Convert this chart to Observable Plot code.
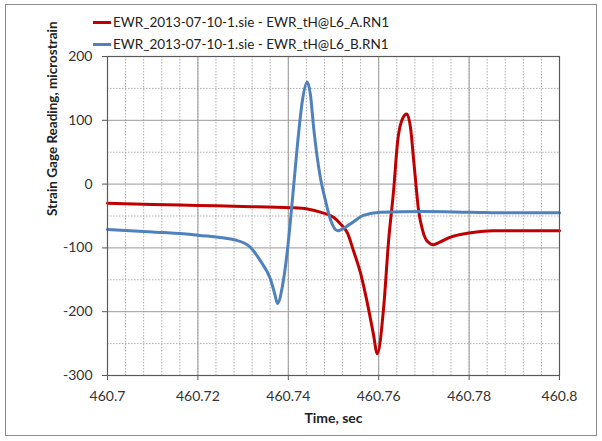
<!DOCTYPE html>
<html>
<head>
<meta charset="utf-8">
<script src="https://cdn.jsdelivr.net/npm/d3@7"></script>
<script src="https://cdn.jsdelivr.net/npm/@observablehq/plot@0.6"></script>
<style>
  html, body { margin: 0; padding: 0; background: #fff; }
  #wrap { position: relative; width: 602px; height: 441px; font-family: Lato, "Open Sans", sans-serif; }
  #border { position: absolute; left: 5px; top: 4px; width: 592px; height: 432px; border: 1px solid #8a8a8a; box-sizing: border-box; pointer-events: none; }
  #legend { position: absolute; left: 93px; top: 11px; font-size: 13.5px; color: #222; line-height: 22px; }
  #legend .item { display: flex; align-items: center; white-space: nowrap; }
  #legend .sw { display: inline-block; width: 18px; height: 3px; margin-right: 2px; }
  #chart { position: absolute; left: 0; top: 0; }
</style>
</head>
<body>
<div id="wrap">
  <div id="chart"></div>
  <div id="legend"></div>
  <div id="border"></div>
</div>
<script>
// Series names
const seriesNames = [
  "EWR_2013-07-10-1.sie - EWR_tH@L6_A.RN1",
  "EWR_2013-07-10-1.sie - EWR_tH@L6_B.RN1"
];
const seriesColors = ["#C00000", "#4F81BD"];

// Series A (red)
const timeA = [460.700, 460.710, 460.720, 460.730, 460.7405, 460.7442, 460.7471, 460.7500, 460.7515, 460.7531, 460.7544, 460.7560, 460.7575, 460.7588, 460.7597, 460.7611, 460.7622, 460.7633, 460.7642, 460.7653, 460.7662, 460.7671, 460.7677, 460.7681, 460.7688, 460.7697, 460.7708, 460.7721, 460.7735, 460.7759, 460.7796, 460.7854, 460.7920, 460.800];
const valueA = [-30, -32, -33.5, -35, -37, -39, -44, -52, -62, -77, -104, -140, -187, -234, -266, -193, -88, -10, 68, 103, 110, 85, 40, 10, -40, -72, -90, -95, -91, -83, -77, -73, -73, -73];

// Series B (blue)
const timeB = [460.700, 460.710, 460.720, 460.7285, 460.7316, 460.7338, 460.7360, 460.7370, 460.7376, 460.7387, 460.7398, 460.7409, 460.7420, 460.7431, 460.7442, 460.7449, 460.7456, 460.7471, 460.7482, 460.7493, 460.7509, 460.7538, 460.7566, 460.7604, 460.770, 460.780, 460.790, 460.800];
const valueB = [-71, -75, -80, -88, -99, -120, -148, -172, -187, -160, -104, -25, 60, 130, 160, 140, 89, 10, -25, -55, -73, -62, -49, -44, -43, -44, -45, -45];

// Axis ticks
const xTicks = [460.70, 460.72, 460.74, 460.76, 460.78, 460.80];
const xTickLabels = ["460.7", "460.72", "460.74", "460.76", "460.78", "460.8"];
const yTicks = [-300, -200, -100, 0, 100, 200];
const yTickLabels = ["-300", "-200", "-100", "0", "100", "200"];
const xMinor = d3.range(0, 26).map(i => 460.7 + i * 0.004);
const yMinor = [-250, -150, -50, 50, 150];

const xTitle = "Time, sec";
const yTitle = "Strain Gage Reading, microstrain";

const dataA = timeA.map((t, i) => ({t, v: valueA[i]}));
const dataB = timeB.map((t, i) => ({t, v: valueB[i]}));

const chart = Plot.plot({
  width: 602,
  height: 441,
  marginLeft: 107,
  marginRight: 43,
  marginTop: 56,
  marginBottom: 66,
  style: {fontFamily: "Lato, 'Open Sans', sans-serif", background: "transparent", color: "#333"},
  x: {domain: [460.7, 460.8]},
  y: {domain: [-300, 200]},
  marks: [
    Plot.ruleX(xMinor, {stroke: "#b0b0b0", strokeDasharray: "1.5,1.5", strokeWidth: 1}),
    Plot.ruleY(yMinor, {stroke: "#b0b0b0", strokeDasharray: "1.5,1.5", strokeWidth: 1}),
    Plot.ruleX(xTicks, {stroke: "#9a9a9a", strokeWidth: 1}),
    Plot.ruleY(yTicks, {stroke: "#9a9a9a", strokeWidth: 1}),
    Plot.line(dataA, {x: "t", y: "v", stroke: seriesColors[0], strokeWidth: 3, curve: "monotone-x"}),
    Plot.line(dataB, {x: "t", y: "v", stroke: seriesColors[1], strokeWidth: 3, curve: "monotone-x"}),
    Plot.frame({stroke: "#595959", strokeWidth: 1.2}),
    Plot.axisX({ticks: xTicks, tickFormat: (d, i) => xTickLabels[i], tickSize: 5, tickPadding: 11, fontSize: 14, label: null, stroke: "#595959"}),
    Plot.axisY({ticks: yTicks, tickFormat: (d, i) => yTickLabels[i], tickSize: 5, tickPadding: 10, fontSize: 14, label: null, stroke: "#595959"}),
    Plot.text([xTitle], {frameAnchor: "bottom", dy: 47, fontSize: 14, fontWeight: "bold", fill: "#222"}),
    Plot.text([yTitle], {frameAnchor: "left", dx: -55, rotate: -90, fontSize: 13.5, fontWeight: "bold", fill: "#222"})
  ]
});
document.getElementById("chart").appendChild(chart);

const legend = document.getElementById("legend");
seriesNames.forEach((name, i) => {
  const item = document.createElement("div");
  item.className = "item";
  const sw = document.createElement("span");
  sw.className = "sw";
  sw.style.background = seriesColors[i];
  item.appendChild(sw);
  const label = document.createElement("span");
  label.textContent = name;
  item.appendChild(label);
  legend.appendChild(item);
});
</script>
</body>
</html>
